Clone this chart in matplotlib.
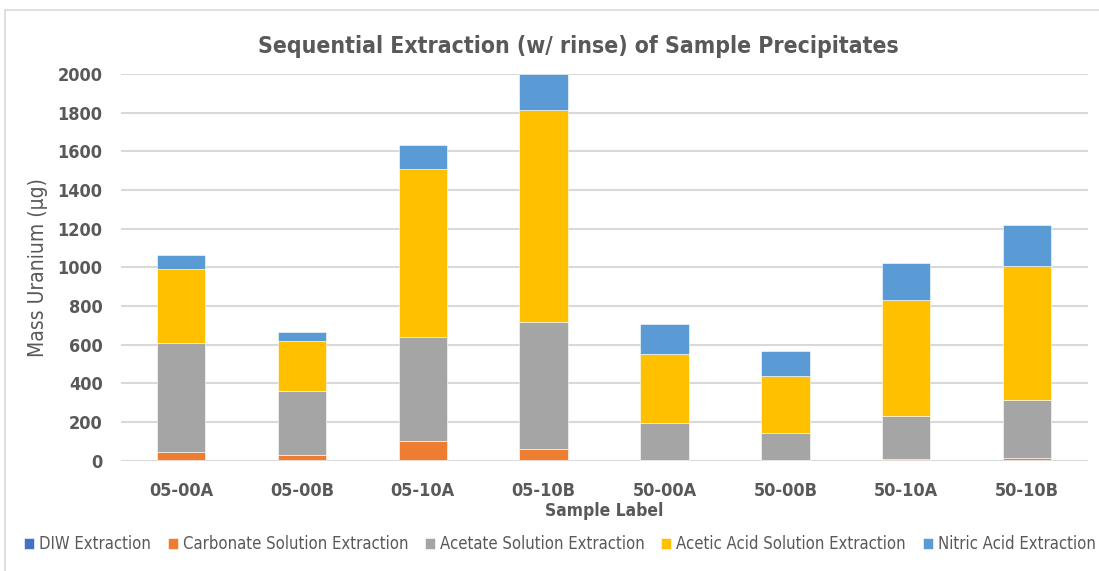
import matplotlib
matplotlib.use('Agg')
import matplotlib.pyplot as plt
from matplotlib.patches import Rectangle
import numpy as np

# sample labels and uranium mass (ug) recovered in each extraction step
samples = ["05-00A", "05-00B", "05-10A", "05-10B", "50-00A", "50-00B", "50-10A", "50-10B"]
diw = [1, 1, 1, 1, 1, 1, 1, 1]
carbonate = [45, 26, 102, 62, 2, 1, 7, 14]
acetate = [562, 336, 536, 653, 190, 141, 225, 301]
acetic = [383, 258, 871, 1100, 357, 294, 598, 692]
nitric = [71, 46, 124, 183, 159, 130, 189, 211]

series = [
    ("DIW Extraction", diw, "#4472C4"),
    ("Carbonate Solution Extraction", carbonate, "#ED7D31"),
    ("Acetate Solution Extraction", acetate, "#A5A5A5"),
    ("Acetic Acid Solution Extraction", acetic, "#FFC000"),
    ("Nitric Acid Extraction", nitric, "#5B9BD5"),
]

plt.rcParams['font.family'] = ['DejaVu Sans']
plt.rcParams['font.stretch'] = 'condensed'
grey = "#595959"

fig = plt.figure(figsize=(10.99, 5.71), dpi=100)
ax = fig.add_axes([0.1097, 0.1932, 0.8799, 0.6772])

# chart frame
fig.patches.append(Rectangle((5 / 1099, -0.1), 1.2, 1 - 10 / 571 + 0.1, transform=fig.transFigure,
                             fill=False, edgecolor="#d9d9d9", linewidth=1.2))

x = np.arange(len(samples))
bottom = np.zeros(len(samples))
for name, vals, col in series:
    ax.bar(x, vals, 0.4, bottom=bottom, color=col, label=name, edgecolor="white", linewidth=0.4, zorder=3)
    bottom += np.array(vals)

ax.set_xlim(-0.5, len(samples) - 0.5)
ax.set_ylim(0, 2000)
ax.set_yticks(range(0, 2001, 200))
ax.yaxis.grid(True, color="#d9d9d9", linewidth=1.5, zorder=0)
for s in ax.spines.values():
    s.set_visible(False)
ax.tick_params(length=0, labelcolor=grey)
ax.tick_params(axis="y", labelsize=13, pad=13)
ax.tick_params(axis="x", labelsize=13, pad=15)
ax.set_xticks(x)
ax.set_xticklabels(samples, fontweight="bold")
for lab in ax.get_yticklabels():
    lab.set_fontweight("bold")

ax.set_ylabel("Mass Uranium (\u00b5g)", fontsize=15, color=grey, labelpad=7)
ax.set_xlabel("Sample Label", fontsize=12.5, fontweight="bold", color=grey, labelpad=2)
fig.text(0.526, 0.918, "Sequential Extraction (w/ rinse) of Sample Precipitates",
         ha="center", va="center", fontsize=16.5, fontweight="bold", color=grey)

fig.legend(loc="center left", bbox_to_anchor=(0.016, 0.047), ncol=5, frameon=False,
           fontsize=12, labelcolor=grey, handlelength=0.6, handleheight=0.6,
           handletextpad=0.3, columnspacing=1.0, borderaxespad=0)

fig.savefig("out.png", dpi=100)
